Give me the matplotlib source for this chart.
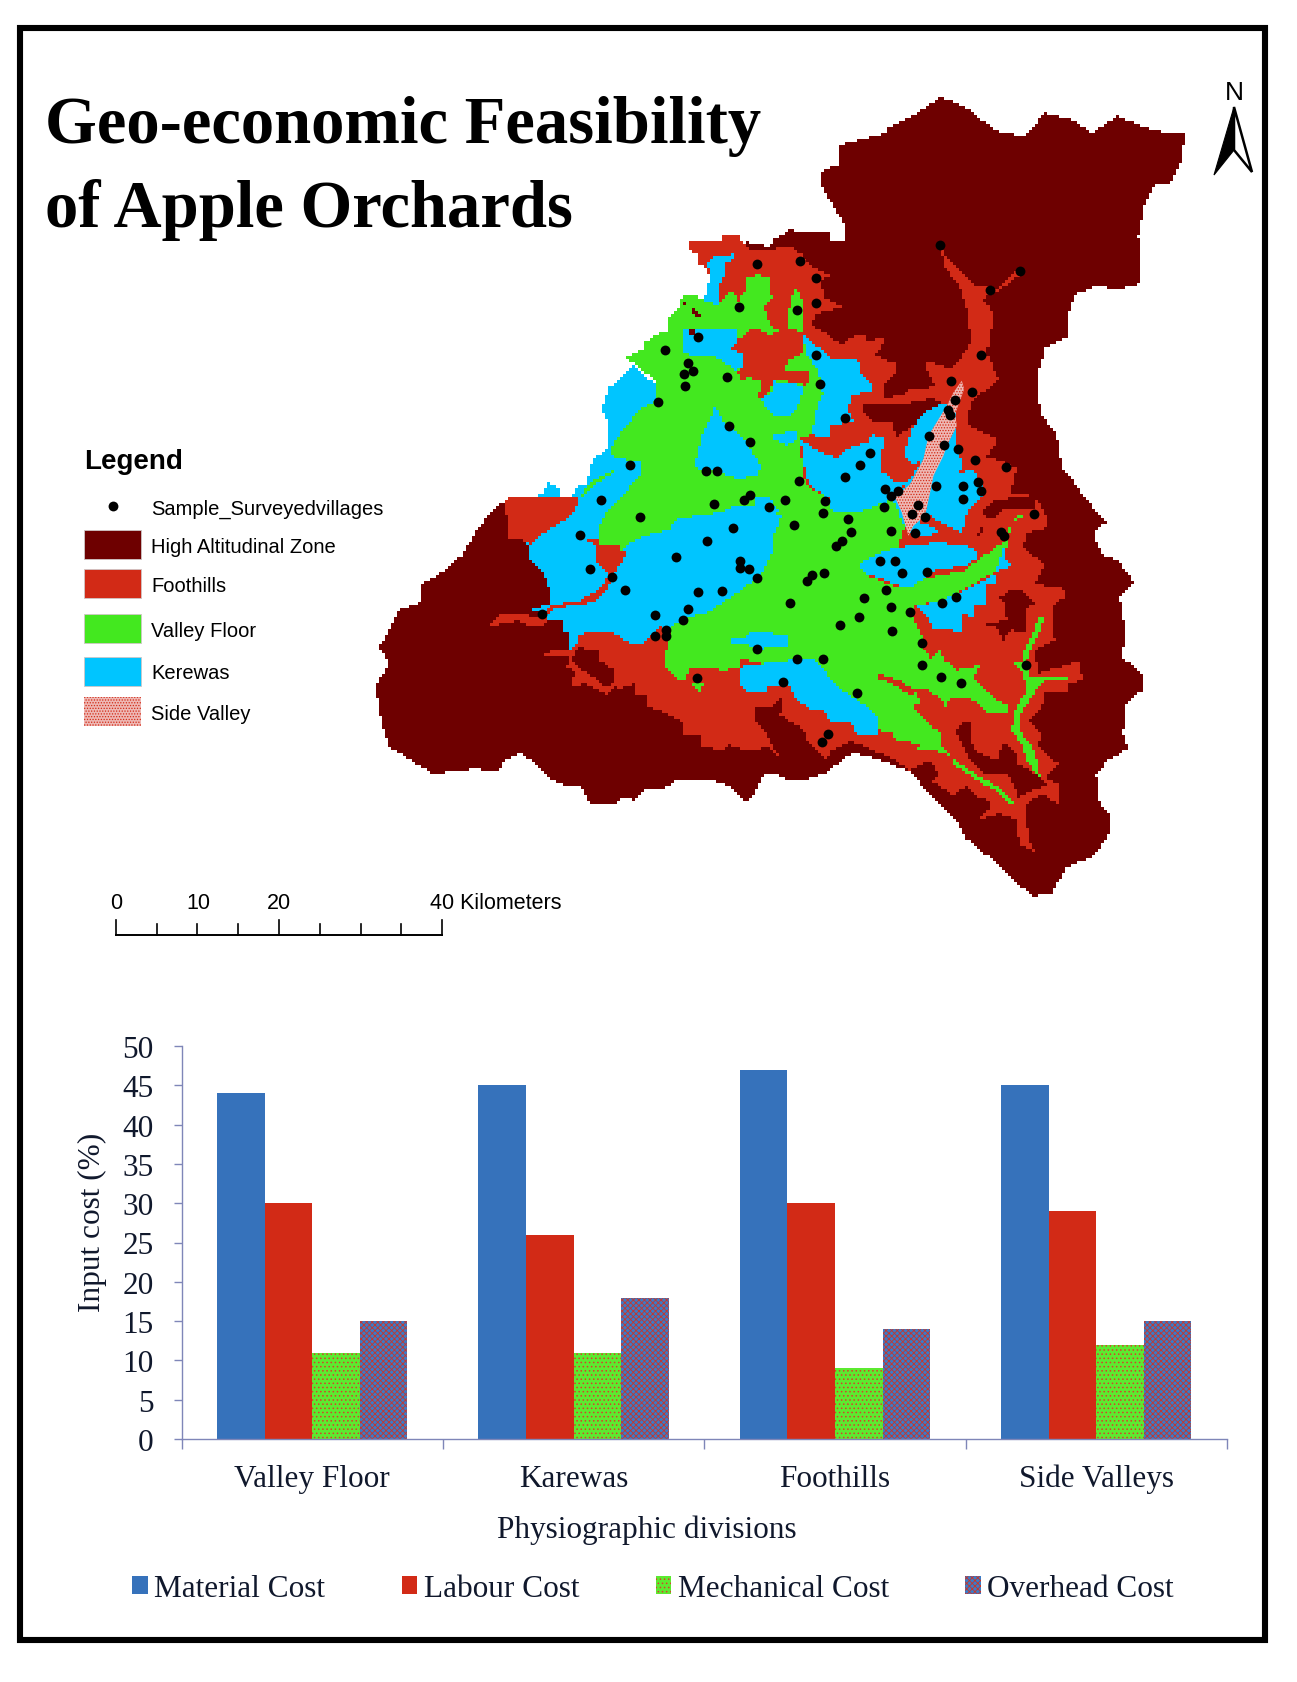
import matplotlib
matplotlib.use("Agg")
import matplotlib.pyplot as plt
import numpy as np
from matplotlib.colors import ListedColormap
from matplotlib.path import Path
from matplotlib.patches import Polygon, Rectangle

W, H = 1297, 1683

# bar chart data
divisions = ["Valley Floor", "Karewas", "Foothills", "Side Valleys"]
material = [44, 45, 47, 45]
labour = [30, 26, 30, 29]
mechanical = [11, 11, 9, 12]
overhead = [15, 18, 14, 15]

# map legend
legend_names = ["High Altitudinal Zone", "Foothills", "Valley Floor", "Kerewas", "Side Valley"]


def crop_a(p):
    return [(474 + .608 * x, 273.5 + .608 * y) for x, y in p]


def crop_b(p):
    return [(255 + .608 * x, 693 + .608 * y) for x, y in p]


def crop_c(p):
    return [(984.6 + .608 * x, 729 + .608 * y) for x, y in p]


high_zone = (
    crop_a([(300,300),(450,200),(440,40),(510,55),(525,35),(575,5),(630,15),(695,15),(695,40),(740,40),(745,0)])
    + [(880,195),(880,170),(915,155),(915,120),(1000,100),(1000,90),(1060,60),(1100,32),(1150,55),(1200,95),(1250,105),
       (1290,62),(1340,75),(1375,100),(1420,68),(1490,95),(1545,100),(1540,150),(1520,190),(1490,195),(1470,235),(1460,290),
       (1465,375),(1425,385),(1380,380),(1345,395),(1330,430),(1330,470),(1290,490),(1275,540),(1280,610),(1310,650),(1320,710)]
    + crop_c([(580,0),(620,60),(685,135),(645,165),(670,230),(720,250),(770,315),(725,360),(745,480),(730,540),(770,570),
              (800,600),(800,635),(745,680),(735,770),(750,815),(690,850),(655,890),(660,970),(700,1020),(690,1080)])
    + [(1380,1420),(1330,1440),(1300,1490),(1265,1495),(1195,1430)]
    + crop_c([(260,1080),(245,1040),(200,1000),(135,930),(100,885),(60,870),(0,845)])
    + crop_b([(1130,888),(1100,900),(1045,945),(975,970),(920,965),(880,945),(850,955),(820,1025),(800,1030),(750,985),
              (690,965),(600,965),(550,998),(500,995),(470,1028),(430,1022),(410,1040),(330,1045),(325,1020),(300,985),
              (265,990),(215,965),(165,915),(125,888),(80,905),(60,945),(10,945),(0,930)])
    + [(220,1265),(170,1270),(90,1220),(75,1170),(65,1110),(90,1070),(72,1040),(90,1010),(110,970),(145,960),(150,925),
       (190,900),(225,870),(250,825),(280,790),(310,765)]
    + crop_b([(300,300)])
)
foothills = (
    crop_a([(265,42),(370,40),(372,22),(420,25),(430,45),(460,65),(500,65),(540,60),(580,60),(610,80),(635,110),(665,130),
            (695,140),(665,165),(680,210),(740,235),(690,245),(650,255),(640,290),(670,305),(730,350),(770,320),(800,315),
            (800,340),(860,325),(855,345),(830,380),(890,405),(890,440),(860,470),(860,510),(910,500),(945,480),(985,480),
            (1010,470),(985,420),(980,395),(1060,420),(1090,390),(1120,340),(1110,250),(1085,170),(1040,120),(1030,60),
            (1060,105),(1090,135),(1140,175),(1200,180)])
    + [(1240,345),(1242,360),(1200,390),(1178,402),(1195,430),(1183,500),(1203,550),(1155,590),(1148,630),(1203,660),
       (1183,690),(1238,710),(1225,760)]
    + crop_c([(470,55),(510,130),(510,150),(450,165),(430,210),(500,260),(470,320),(560,335),(565,355),(520,390),(530,490),
              (470,520),(480,590),(600,555),(615,610),(570,620),(570,650),(500,650),(490,700),(450,730),(490,770),(480,810),
              (540,860),(500,900),(540,920),(540,980),(490,950),(440,985),(450,1080)])
    + [(1270,1415),(1245,1400)]
    + crop_c([(420,1080),(420,1030),(360,1010),(300,1030),(330,1000),(335,970),(295,960),(270,925),(225,955),(160,910),
              (185,890),(155,850),(95,880),(50,850),(0,825)])
    + crop_b([(1120,850),(1060,880),(1045,905),(985,850),(975,815),(945,800),(905,775),(915,720),(875,750),(825,755),(835,800),
              (855,815),(870,845),(900,895),(870,870),(800,880),(745,860),(735,880),(665,865),(665,830),(615,830),(610,795),
              (560,770),(505,750),(500,715),(465,715),(465,680),(425,695),(405,690),(385,715),(315,680),(272,690),(285,645),
              (262,630),(270,600),(185,600),(225,575),(272,578),(290,540),(560,300)])
    + crop_a([(200,450),(300,300),(315,215),(335,160),(325,125),(295,105),(300,75),(275,70)])
)
west_foothills = crop_b([(80,130),(100,115),(295,115),(290,150),(250,190),(195,225),(155,265),(125,240),(90,240),(85,210)])
west_strip = crop_b([(35,500),(60,472),(130,470),(165,480),(195,480),(215,445),(300,430),(345,405),(375,380),(385,345),(350,310),
    (350,265),(310,240),(355,240),(360,265),(425,258),(440,290),(410,340),(385,395),(350,432),(290,445),(235,450),(210,470),
    (195,510),(150,510),(120,490),(40,505)])
pockets = [
    crop_c([(365,360),(400,335),(440,345),(470,385),(440,390),(445,470),(400,460),(375,490),(355,450),(320,440),(385,430),(380,385)]),
    crop_c([(320,100),(350,70),(410,60),(470,60),(470,90),(380,95),(340,125),(315,110)]),
    crop_c([(295,175),(320,140),(320,155),(305,180)]),
    crop_c([(235,760),(265,735),(285,745),(275,790),(300,825),(360,850),(370,795),(410,820),(420,860),(470,890),(510,920),
            (420,960),(390,890),(320,890),(270,840),(255,800)]),
    crop_a([(790,530),(850,530),(905,530),(1000,510),(1030,520),(1010,560),(950,590),(895,625),(880,580),(830,585),(800,560)]),
    crop_b([(275,610),(300,565),(320,580),(360,575),(360,610),(400,635),(405,680),(380,690),(340,660),(300,635)]),
]
kerewas_under = [
    crop_b([(155,270),(150,300),(190,340),(215,400),(215,440),(150,460),(210,460),(200,490),(250,490),(250,520),(270,530),
            (270,580),(290,570),(295,530),(400,525),(440,555),(490,560),(540,510),(600,520),(760,460),(900,320),(960,170),
            (840,120),(600,140),(450,200)])
    + crop_a([(200,500),(105,410),(60,455),(30,475),(5,550),(30,580),(30,650),(0,680)])
    + crop_b([(340,5),(330,40),(320,80),(285,90),(280,115),(240,115),(240,90),(210,75),(190,110),(120,125),(90,115),(125,240)]),
]
valley = [
    crop_a([(75,385),(130,365),(135,340),(180,315),(205,305),(205,270),(240,235),(248,205),(295,205),(315,215),(360,225),(405,185),
            (415,220),(440,190),(440,150),(480,140),(512,150),(520,210),(495,230),(520,300),(570,315),(572,240),(585,185),(608,195),
            (615,310),(660,430),(675,500),(660,520),(640,620),(600,630),(620,770),(700,820),(700,850),(880,815),(905,840),(920,900),
            (890,980),(780,1015),(820,1050),(900,1080),(1000,1050),(1100,1030),(1150,990)])
    + crop_c([(345,215),(380,190),(400,130),(435,105),(430,120),(400,135),(385,210),(365,260),(340,290),(290,320),(190,370),
              (115,385),(100,410),(130,470),(140,520),(160,545),(185,515),(205,555),(240,580),(310,565),(285,600),(340,660),
              (390,690),(390,710),(330,710),(280,665),(215,665),(205,700),(195,670),(150,640),(110,640),(130,680),(100,690),
              (130,720),(190,770),(190,800),(220,840),(300,895),(360,930),(410,975),(390,980),(350,940),(290,905),(240,870),
              (200,825),(120,815),(125,800),(45,785),(45,760),(5,760),(0,720)])
    + crop_b([(1160,745),(1090,700),(1070,680),(1010,610),(930,610),(850,620),(785,605),(780,630),(740,640),(690,635),(660,630),
              (635,630),(620,670),(600,675),(565,640),(555,610),(565,570),(575,505),(630,480),(690,465),(750,425),(810,380),
              (850,350),(880,290),(880,250),(910,175),(840,145),(770,145),(720,165),(660,175),(600,180),(570,215),(500,235),
              (440,260),(425,285),(420,258),(360,265),(360,200),(390,150),(450,90),(490,40),(480,10),(400,0)])
    + crop_a([(35,660),(45,640),(100,570),(130,535),(170,520),(165,445),(130,430),(105,405)]),
    crop_c([(480,420),(495,425),(490,450),(470,490),(445,550),(450,600),(570,600),(570,610),(490,615),(460,660),(425,715),(430,770),
            (470,820),(485,900),(450,860),(430,800),(400,760),(410,700),(445,640),(435,590),(400,555),(430,555),(440,510),(470,460)]),
    crop_b([(300,115),(340,70),(400,40),(390,50),(340,85),(310,120)]),
    crop_b([(640,680),(680,680),(660,705)]),
]
kerewas_over = [
    crop_a([(315,215),(335,140),(325,105),(345,85),(405,78),(405,95),(380,100),(380,130),(365,165),(360,230)]),
    crop_a([(255,300),(415,300),(415,350),(435,380),(435,415),(410,425),(350,385),(280,385),(255,370)]),
    crop_a([(345,540),(360,545),(370,575),(420,620),(450,650),(485,715),(480,740),(420,755),(370,735),(285,720),(310,620),(330,580)]),
    crop_a([(525,455),(540,465),(620,470),(600,530),(580,560),(530,565),(495,530),(490,510),(520,490)]),
    crop_a([(610,310),(640,340),(700,390),(780,390),(785,430),(825,470),(820,490),(760,500),(750,550),(770,580),(700,590),(690,630),
            (640,620),(660,520),(675,500),(660,430),(625,380)]),
    crop_a([(605,630),(640,660),(690,680),(720,690),(750,660),(810,640),(820,620),(855,625),(850,730),(890,760),(930,765),(885,800),
            (880,815),(790,850),(700,850),(690,810),(630,770),(615,700)]),
    crop_a([(925,660),(945,600),(980,550),(1040,525),(1075,545),(1075,650),(1090,690),(1088,735),(1130,725),(1160,795),(1130,830),
            (1105,860),(1095,915),(1040,890),(990,860),(960,880),(1020,905),(1015,920),(945,925),(910,880),(885,810),(930,765),
            (970,700),(940,710),(925,690)]),
    crop_a([(470,810),(510,805),(540,850),(500,850),(465,825)]),
    crop_a([(525,620),(600,605),(590,640),(565,650),(520,630)]),
    crop_c([(-60,265),(-30,245),(0,230),(60,210),(180,195),(290,210),(300,240),(270,265),(170,280),(100,330),(60,325),(0,300),(-40,290)]),
    crop_c([(115,390),(190,370),(300,320),(350,290),(375,215),(380,240),(400,270),(360,275),(350,320),(330,320),(330,380),(285,380),
            (285,420),(250,410),(255,470),(220,460),(170,460),(150,420)]),
    crop_b([(760,545),(800,545),(815,525),(900,530),(930,535),(930,565),(850,575),(800,562),(760,560)]),
    crop_b([(785,630),(850,620),(930,610),(1010,610),(1070,680),(1090,700),(1160,745),(1200,780),(1200,830),(1135,830),(1120,800),
            (1060,800),(1035,760),(1000,760),(950,725),(930,680),(870,690),(860,710),(810,710),(780,680)]),
]
red_over = [
    crop_a([(420,330),(470,295),(510,320),(570,300),(610,310),(610,375),(565,400),(560,430),(630,425),(635,465),(620,470),(530,450),
            (500,505),(480,505),(490,460),(450,445),(435,460),(410,430),(435,415),(435,380),(400,360)]),
    crop_c([(0,590),(60,610),(110,640),(100,660),(50,625),(0,605)]),
]
specks = [
    crop_a([(255,220),(265,220),(265,232),(255,232)]),
    crop_a([(275,240),(285,240),(303,262),(295,270)]),
    crop_a([(265,308),(290,298),(292,320),(268,318)]),
]
side_valley = crop_a([(1085,455),(1092,480),(1065,555),(1070,590),(1040,650),(1030,680),(1000,740),(990,790),(975,860),(940,890),
    (925,920),(905,850),(885,805),(930,765),(970,690),(985,620),(1040,530),(1060,490)])

# sample villages
villages_u = [1094,1239,1185,761,839,867,867,834,728,653,592,868,1168,635,627,644,706,629,875,1114,1153,579,1122,1108,1112,
    920,709,1073,748,1101,1126,967,1157,949,1214,529,667,687,920,837,1164,1086,1136,993,1004,1018,1168,748,737,476,1135,811,
    884,681,783,992,1054,881,1043,1067,1266,547,926,827,716,931,1005,1049,1206,1210,438,670,915,905,612,729,985,1012,730,745,
    456,1025,1070,882,860,851,496,760,520,653,696,995,956,1124,1098,821,1005,635,1039,574,368,947,625,912,594,1007,574,595,
    1061,760,834,880,1061,1251,1095,651,1133,808,943,890,878]
villages_v = [302,350,384,337,331,362,408,422,416,470,494,503,504,517,537,533,544,560,557,551,571,589,585,603,612,618,632,651,
    661,668,674,682,695,703,707,703,715,715,725,733,734,742,742,748,760,752,751,759,768,767,765,768,769,774,780,781,776,792,
    793,799,794,799,803,814,819,826,825,827,826,833,832,843,843,851,871,878,878,878,891,894,893,901,898,900,905,915,908,909,
    931,935,934,931,946,944,955,955,962,966,972,977,976,981,987,996,1004,1007,1015,1015,1029,1039,1057,1058,1068,1069,1090,
    1092,1102,1100,1120,1195,1208]

c_maroon, c_red, c_green, c_blue = "#6e0000", "#d22a16", "#43e81f", "#00c5ff"
serif = "Liberation Serif"
sans = "Liberation Sans"
ink = "#10182c"
axis_col = "#7f86b8"


def px_axes(x0, y0, x1, y1):
    return fig.add_axes([x0 / W, 1 - y1 / H, (x1 - x0) / W, (y1 - y0) / H])


fig = plt.figure(figsize=(W / 100, H / 100), dpi=100, facecolor="white")

# page overlay in pixels
page = fig.add_axes([0, 0, 1, 1], zorder=5)
page.set_xlim(0, W)
page.set_ylim(H, 0)
page.axis("off")
page.patch.set_alpha(0)
page.add_patch(Rectangle((20, 29), 1245, 1612, fill=False, ec="black", lw=4.4))

page.text(45, 143, "Geo-economic Feasibility", family=serif, weight="bold", fontsize=48, color="black")
page.text(45, 227, "of Apple Orchards", family=serif, weight="bold", fontsize=48, color="black")

# north arrow
page.text(1234, 93, "N", family=sans, fontsize=19, ha="center", va="center")
page.add_patch(Polygon([(1234, 108), (1214, 176), (1234, 151)], fc="black", ec="black", lw=0.8))
page.add_patch(Polygon([(1234, 108), (1252, 173), (1234, 151)], fc="white", ec="black", lw=1.8))

# map raster
ax_map = px_axes(340, 80, 1200, 940)
cell = 5.5
uu, vv = np.meshgrid(np.arange(0, 1568, cell) + cell / 2, np.arange(0, 1568, cell) + cell / 2)
pts = np.column_stack([uu.ravel(), vv.ravel()])
zones = np.zeros(len(pts), dtype=int)


def paint(polys, code):
    for poly in polys:
        zones[Path(poly).contains_points(pts)] = code


paint([high_zone], 1)
paint([foothills], 2)
paint(pockets, 1)
paint(kerewas_under, 4)
paint([west_foothills, west_strip], 2)
paint(valley, 3)
paint(kerewas_over, 4)
paint(red_over, 2)
paint(specks, 1)
grid = zones.reshape(uu.shape)
cmap = ListedColormap(["white", c_maroon, c_red, c_green, c_blue])
ax_map.imshow(grid, cmap=cmap, vmin=0, vmax=4, interpolation="nearest", extent=(0, 1568, 1568, 0), aspect="auto")
plt.rcParams["hatch.linewidth"] = 0.6
ax_map.add_patch(Polygon(side_valley, fc="#eeb8b4", ec=c_red, lw=0, hatch="......"))
ax_map.scatter(villages_u, villages_v, s=50, c="black", lw=0, zorder=3)
ax_map.set_xlim(0, 1568)
ax_map.set_ylim(1568, 0)
ax_map.axis("off")

# map legend
page.text(84, 462, "Legend", family=sans, weight="bold", fontsize=20, va="center")
page.scatter([112.7], [506.5], s=50, c="black", lw=0)
page.text(151, 509, "Sample_Surveyedvillages", family=sans, fontsize=14.5, va="center")
swatch_top = [531, 570, 615, 658, 698]
text_y = [548, 587, 632, 674, 715]
swatch_col = [c_maroon, c_red, c_green, c_blue, "#eeb8b4"]
for name, top, ty, col in zip(legend_names, swatch_top, text_y, swatch_col):
    if name == "Side Valley":
        page.add_patch(Rectangle((84, top), 57, 28.5, fc=col, ec=c_red, lw=0, hatch="......"))
    else:
        page.add_patch(Rectangle((84, top), 57, 28.5, fc=col, ec="#cfc6c6", lw=0.6))
    page.text(151, ty, name, family=sans, fontsize=14.5, va="center")

# scale bar
bar_x = np.linspace(115.7, 442.3, 9)
page.plot([bar_x[0], bar_x[-1]], [936, 936], color="black", lw=1.4)
for i, x in enumerate(bar_x):
    page.plot([x, x], [921 if i % 4 == 0 else 925, 936], color="black", lw=1.2)
page.text(116, 904, "0", family=sans, fontsize=15.5, ha="center", va="center")
page.text(198, 904, "10", family=sans, fontsize=15.5, ha="center", va="center")
page.text(279, 904, "20", family=sans, fontsize=15.5, ha="center", va="center")
page.text(430, 904, "40 Kilometers", family=sans, fontsize=15.5, va="center")

# bar chart
ax = px_axes(181.6, 1047, 1227, 1440)
x = np.arange(4) + 0.5
bw = 0.182
ax.bar(x - 1.5 * bw, material, bw, color="#3672bb", label="Material Cost")
ax.bar(x - 0.5 * bw, labour, bw, color=c_red, label="Labour Cost")
ax.bar(x + 0.5 * bw, mechanical, bw, facecolor="#5cea30", edgecolor="#d8402a", lw=0, hatch="....", label="Mechanical Cost")
ax.bar(x + 1.5 * bw, overhead, bw, facecolor="#3a7cc8", edgecolor="#c8352a", lw=0, hatch="xxxxxx", label="Overhead Cost")
ax.set_xlim(0, 4)
ax.set_ylim(0, 50)
ax.set_yticks(range(0, 51, 5))
ax.set_xticks([0, 1, 2, 3, 4])
ax.set_xticklabels([])
ax.set_xticks(x, divisions, minor=True)
ax.tick_params(axis="x", which="major", length=7, width=1, color=axis_col)
ax.tick_params(axis="x", which="minor", length=0, pad=18, labelsize=22.5, labelcolor=ink)
ax.tick_params(axis="y", length=6, width=1, color=axis_col, labelsize=22.5, labelcolor=ink, pad=14)
for lab in ax.get_xticklabels(minor=True) + ax.get_yticklabels():
    lab.set_family(serif)
for side in ["top", "right"]:
    ax.spines[side].set_visible(False)
for side in ["left", "bottom"]:
    ax.spines[side].set_color(axis_col)
    ax.spines[side].set_linewidth(1)
ax.set_ylabel("Input cost (%)", family=serif, fontsize=22.5, color=ink, va="center")
ax.yaxis.set_label_coords(-0.0855, 0.555)
ax.set_xlabel("Physiographic divisions", family=serif, fontsize=22.5, color=ink, va="center")
ax.xaxis.set_label_coords(0.445, -0.229)
ax.legend(ncols=4, loc="center", bbox_to_anchor=(0.451, -0.38), frameon=False, borderpad=0, handlelength=0.5,
          handleheight=0.5, handletextpad=0.2, columnspacing=2.45, prop={"family": serif, "size": 22.5}, labelcolor=ink)

fig.savefig("out.png", dpi=100)
